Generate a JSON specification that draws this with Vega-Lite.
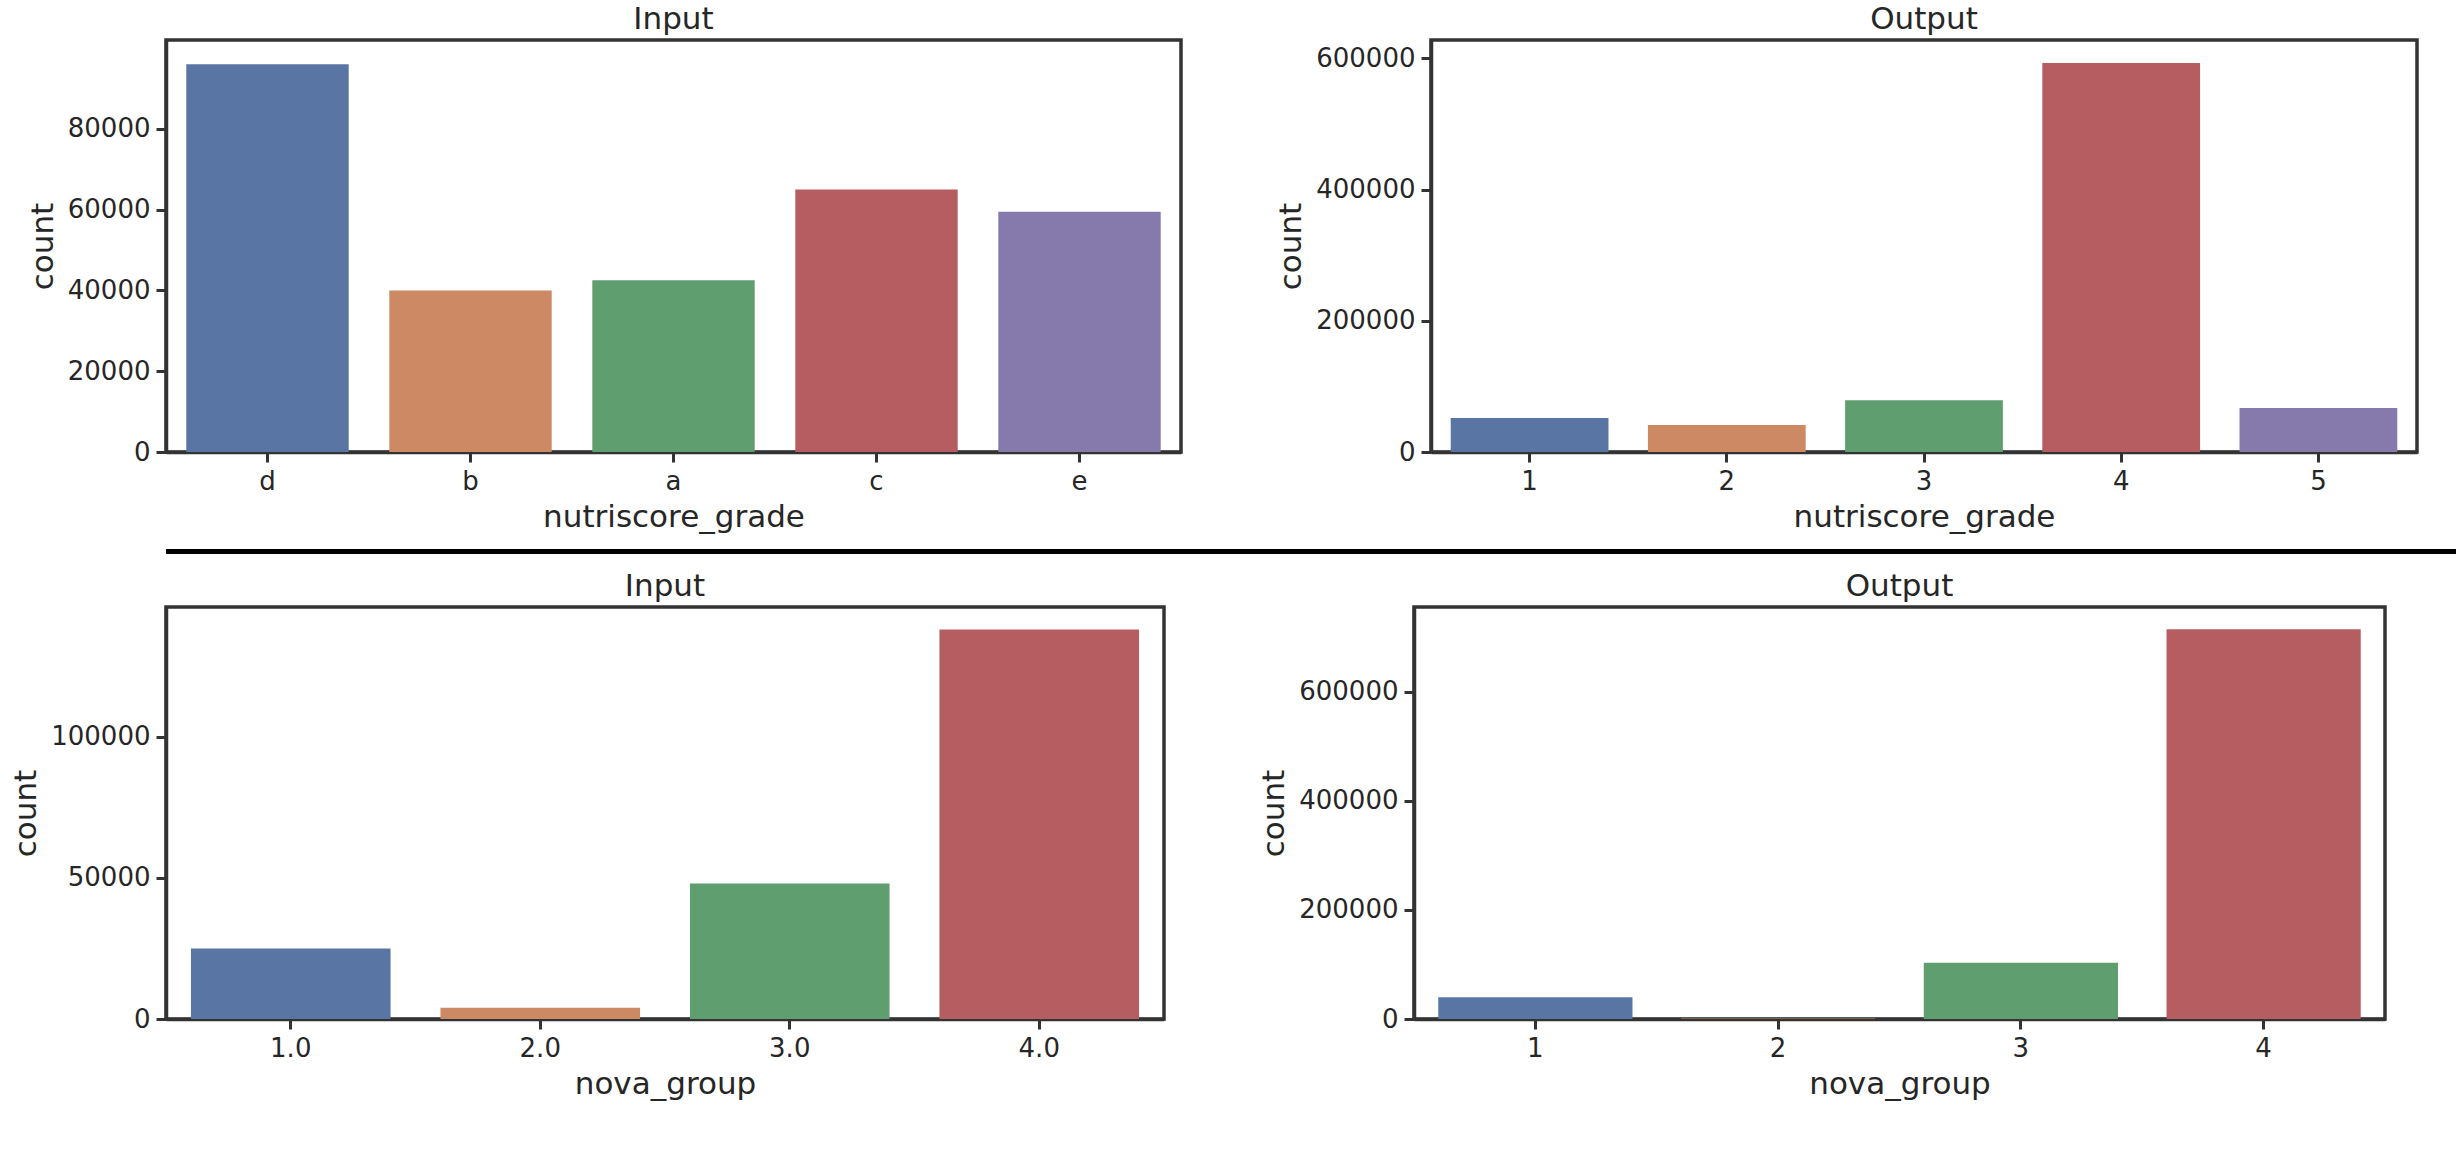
{
"$schema":"https://vega.github.io/schema/vega-lite/v6.json",
"background":"white",
"padding":{"left":8,"top":2,"right":0,"bottom":0},
"config":{
 "font":"DejaVu Sans",
 "view":{"stroke":"#333333","strokeWidth":3.5},
 "axis":{"grid":false,"domainColor":"#333333","domainWidth":3.5,"tickColor":"#333333","tickWidth":3,"tickSize":10,"labelFontSize":26,"titleFontSize":31,"labelColor":"#262626","titleColor":"#262626","titleFontWeight":"normal","labelPadding":6,"titlePadding":8,"labelAngle":0},
 "title":{"fontSize":31,"fontWeight":"normal","color":"#262626","offset":4},
 "concat":{"spacing":90}
},
"datasets":{
 "a":[{"cat":"d","count":96000,"i":0},{"cat":"b","count":40000,"i":1},{"cat":"a","count":42500,"i":2},{"cat":"c","count":65000,"i":3},{"cat":"e","count":59500,"i":4}],
 "b":[{"cat":"1","count":52000,"i":0},{"cat":"2","count":41000,"i":1},{"cat":"3","count":79000,"i":2},{"cat":"4","count":593000,"i":3},{"cat":"5","count":67000,"i":4}],
 "c":[{"cat":"1.0","count":25000,"i":0},{"cat":"2.0","count":4000,"i":1},{"cat":"3.0","count":48000,"i":2},{"cat":"4.0","count":138000,"i":3}],
 "d":[{"cat":"1","count":40000,"i":0},{"cat":"2","count":1000,"i":1},{"cat":"3","count":103000,"i":2},{"cat":"4","count":714000,"i":3}]
},
"vconcat":[
 {"hconcat":[
  {"title":"Input","width":1015,"height":412,"data":{"name":"a"},"mark":"bar",
   "encoding":{"x":{"field":"cat","type":"nominal","sort":null,"title":"nutriscore_grade","scale":{"paddingInner":0.2,"paddingOuter":0.1}},
    "y":{"field":"count","type":"quantitative","title":"count","scale":{"domain":[0,102000],"nice":false},"axis":{"values":[0,20000,40000,60000,80000],"format":"d"}},
    "color":{"field":"i","type":"nominal","legend":null,"scale":{"domain":[0,1,2,3,4],"range":["#5875a4","#cc8963","#5f9e6e","#b55d60","#857aab"]}}}},
  {"title":"Output","width":986,"height":412,"data":{"name":"b"},"mark":"bar",
   "encoding":{"x":{"field":"cat","type":"nominal","sort":null,"title":"nutriscore_grade","scale":{"paddingInner":0.2,"paddingOuter":0.1}},
    "y":{"field":"count","type":"quantitative","title":"count","scale":{"domain":[0,628000],"nice":false},"axis":{"values":[0,200000,400000,600000],"format":"d"}},
    "color":{"field":"i","type":"nominal","legend":null}}}
 ]},
 {"width":2440,"height":5,"data":{"values":[{"a":1}]},"mark":{"type":"point","opacity":0},"encoding":{},"view":{"fill":"black","stroke":null}},
 {"hconcat":[
  {"title":"Input","width":998,"height":412,"data":{"name":"c"},"mark":"bar",
   "encoding":{"x":{"field":"cat","type":"nominal","sort":null,"title":"nova_group","scale":{"paddingInner":0.2,"paddingOuter":0.1}},
    "y":{"field":"count","type":"quantitative","title":"count","scale":{"domain":[0,146000],"nice":false},"axis":{"values":[0,50000,100000],"format":"d"}},
    "color":{"field":"i","type":"nominal","legend":null}}},
  {"title":"Output","width":971,"height":412,"data":{"name":"d"},"mark":"bar",
   "encoding":{"x":{"field":"cat","type":"nominal","sort":null,"title":"nova_group","scale":{"paddingInner":0.2,"paddingOuter":0.1}},
    "y":{"field":"count","type":"quantitative","title":"count","scale":{"domain":[0,755000],"nice":false},"axis":{"values":[0,200000,400000,600000],"format":"d"}},
    "color":{"field":"i","type":"nominal","legend":null}}}
 ]}
],
"spacing":14
}
